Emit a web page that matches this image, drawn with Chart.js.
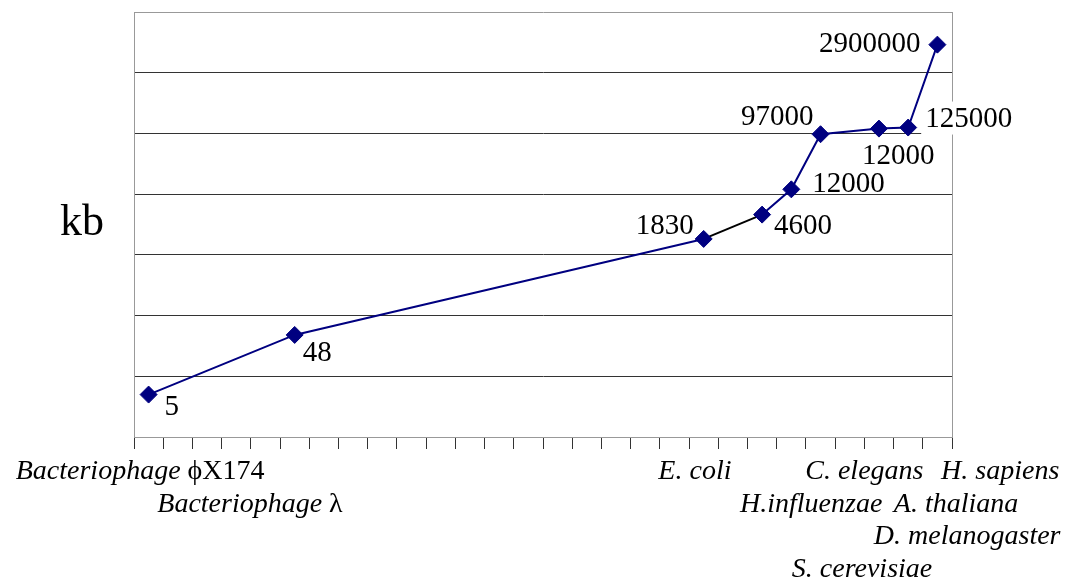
<!DOCTYPE html>
<html>
<head>
<meta charset="utf-8">
<script src="https://cdn.jsdelivr.net/npm/chart.js@4"></script>
<style>
  html, body { margin: 0; padding: 0; background: #fff; }
  #wrap { width: 1080px; height: 588px; position: relative; }
</style>
</head>
<body>
<div id="wrap"><canvas id="genomes"></canvas></div>
<script>
// 28 slots on the category axis, only some of them hold an organism
const categoryCount = 28;
const pointIndex = [0, 5, 19, 21, 22, 23, 25, 26, 27];
const genomeKb = [5, 48, 1830, 4600, 12000, 97000, 120000, 125000, 2900000];
const valueLabels = ['5', '48', '1830', '4600', '12000', '97000', '12000', '125000', '2900000'];

// axis names, written under the axis in staggered rows
const organisms = ['Bacteriophage ', 'Bacteriophage ', 'E. coli', 'H.influenzae', 'S. cerevisiae',
  'C. elegans', 'A. thaliana', 'D. melanogaster', 'H. sapiens'];
const organismSuffix = ['\u03D5X174', '\u03BB', '', '', '', '', '', '', ''];
const organismRow = [0, 1, 0, 1, 3, 0, 1, 2, 0];
const organismAt = [-0.29, 3.47, 18.7, 22.68, 24.42, 24.5, 27.64, 28.02, 29.15];

const yTicks = [1, 10, 100, 1000, 10000, 100000, 1000000, 10000000];

// value label placement relative to the marker
const labelDx = [16, 8, -10, 12, 21, -7, -17, 17, -17];
const labelDy = [20, 26, -5, 19, 3, -9, 35, -1, 7];
const labelAlign = ['left', 'left', 'right', 'left', 'left', 'right', 'left', 'left', 'right'];
const labelBox = [false, false, false, false, false, false, false, true, false];

const navy = '#000080';
const serif = '"Liberation Serif", "Times New Roman", serif';

const slots = Array.from({ length: categoryCount }, (_, i) => 'c' + i);
const series = Array(categoryCount).fill(null);
pointIndex.forEach((idx, i) => { series[idx] = genomeKb[i]; });

const textPlugin = {
  id: 'textPlugin',
  afterDraw(chart) {
    const c = chart.ctx;
    const area = chart.chartArea;
    const x = chart.scales.x;
    const meta = chart.getDatasetMeta(0);

    // right border of the plot
    c.save();
    c.strokeStyle = '#999';
    c.lineWidth = 1;
    c.beginPath();
    c.moveTo(Math.round(area.right) + 0.5, area.top);
    c.lineTo(Math.round(area.right) + 0.5, area.bottom);
    c.stroke();

    // value labels
    c.font = '29px ' + serif;
    c.fillStyle = '#000';
    c.textBaseline = 'alphabetic';
    pointIndex.forEach((idx, i) => {
      const pt = meta.data[idx];
      const tx = pt.x + labelDx[i];
      const ty = pt.y + labelDy[i];
      c.textAlign = labelAlign[i];
      if (labelBox[i]) {
        const w = c.measureText(valueLabels[i]).width;
        const left = labelAlign[i] === 'left' ? tx : tx - w;
        c.fillStyle = '#fff';
        c.fillRect(left - 4, ty - 25, w + 8, 33);
        c.fillStyle = '#000';
      }
      c.fillText(valueLabels[i], tx, ty);
    });

    // organism names below the axis
    const rowBase = area.bottom + 42;
    const rowStep = 32.7;
    c.textAlign = 'left';
    organisms.forEach((name, i) => {
      const cx = x.getPixelForValue(organismAt[i]);
      c.font = 'italic 28px ' + serif;
      const w1 = c.measureText(name).width;
      c.font = '28px ' + serif;
      const w2 = c.measureText(organismSuffix[i]).width;
      const start = cx - (w1 + w2) / 2;
      const by = rowBase + organismRow[i] * rowStep;
      c.font = 'italic 28px ' + serif;
      c.fillText(name, start, by);
      c.font = '28px ' + serif;
      c.fillText(organismSuffix[i], start + w1, by);
    });

    // axis name
    c.font = '44px ' + serif;
    c.textAlign = 'center';
    c.fillText('kb', 82, 235);
    c.restore();
  }
};

new Chart(document.getElementById('genomes'), {
  type: 'line',
  data: {
    labels: slots,
    datasets: [{
      data: series,
      spanGaps: true,
      borderColor: navy,
      borderWidth: 2,
      pointStyle: 'rectRot',
      pointRadius: 8.5,
      pointHoverRadius: 8.5,
      pointBackgroundColor: navy,
      pointBorderColor: navy,
      pointBorderWidth: 1,
      segment: {
        // the E. coli -> H.influenzae piece is drawn in black
        borderColor: ctx => ctx.p1DataIndex === 21 ? '#000' : navy
      }
    }]
  },
  options: {
    responsive: true,
    maintainAspectRatio: false,
    animation: false,
    layout: { padding: { left: 134, right: 128, top: 12, bottom: 139 } },
    plugins: { legend: { display: false }, tooltip: { enabled: false } },
    scales: {
      x: {
        type: 'category',
        offset: true,
        grid: { offset: true, drawOnChartArea: false, drawTicks: true, tickLength: 12, color: '#333' },
        border: { color: '#999', width: 1 },
        ticks: { display: false },
        afterFit: s => { s.height = 12; }
      },
      y: {
        type: 'logarithmic',
        min: 1,
        max: 10000000,
        afterBuildTicks: s => { s.ticks = yTicks.map(v => ({ value: v })); },
        grid: {
          drawTicks: false,
          tickLength: 0,
          color: ctx => (ctx.tick && (ctx.tick.value === 1 || ctx.tick.value === 10000000)) ? '#999' : '#333'
        },
        border: { color: '#999', width: 1 },
        ticks: { display: false },
        afterFit: s => { s.width = 0; }
      }
    }
  },
  plugins: [textPlugin]
});
</script>
</body>
</html>
